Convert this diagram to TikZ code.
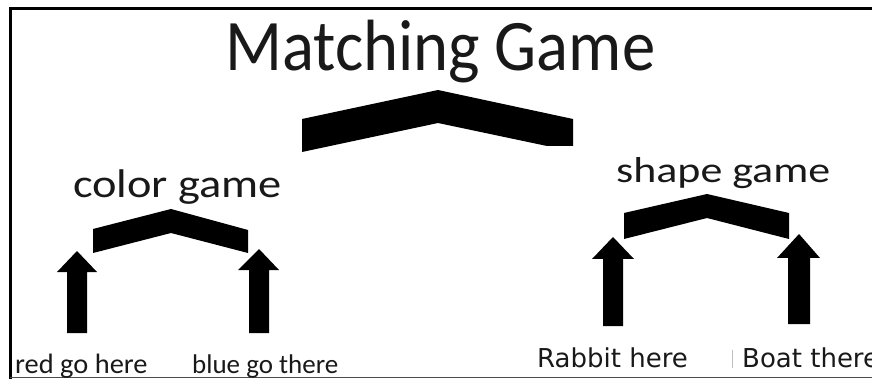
\documentclass[tikz,border=0pt]{standalone}
\usepackage{fontspec}
\setmainfont{Carlito}
\newfontfamily\dejavu{DejaVu Sans}
\tikzset{
  blockshape/.style={fill=black, draw=none},
  lbl/.style={anchor=base west, inner sep=0pt, text=black!90},
}
\begin{document}
\begin{tikzpicture}[x=1pt,y=-1pt]
\useasboundingbox (0,0) rectangle (872,379);
\clip (0,0) rectangle (872,379);
% frame
\draw[line width=3pt] (10,379) -- (10,9) -- (872,9);
\draw[line width=1.6pt, black!70] (10,377.5) -- (872,377.5);
% title
\node[lbl, font=\fontsize{66}{66}\selectfont] (title) at (225,71) {\scalebox{1.01}[1.1]{Matching Game}};
% big chevron
\fill[blockshape] (302,119) -- (438,90) -- (573,119) -- (573,146) -- (547,146) -- (438,123) -- (302,152) -- cycle;
% sub titles
\node[lbl, font=\fontsize{40}{40}\selectfont] (color) at (73,198) {\scalebox{1.16}[1]{color game}};
\node[lbl, font=\fontsize{36}{36}\selectfont] (shape) at (616,183) {\scalebox{1.22}[1]{shape game}};
% small chevrons
\fill[blockshape] (93,229) -- (171,209) -- (248,230) -- (248,253) -- (171,233) -- (93,253) -- cycle;
\fill[blockshape] (624,213) -- (707,194) -- (789,213) -- (789,239) -- (707,218) -- (624,239) -- cycle;
% arrows
\fill[blockshape] (67,333) -- (67,272) -- (57,272) -- (77,251) -- (97,272) -- (87,272) -- (87,333) -- cycle;
\fill[blockshape] (249,333) -- (249,270) -- (238,270) -- (259,249) -- (279,270) -- (269,270) -- (269,333) -- cycle;
\fill[blockshape] (603,326) -- (603,259) -- (592,259) -- (613,237) -- (634,259) -- (623,259) -- (623,326) -- cycle;
\fill[blockshape] (788,324) -- (788,258) -- (777,258) -- (799,234) -- (820,258) -- (810,258) -- (810,324) -- cycle;
% bottom labels
\node[lbl, font=\fontsize{28}{28}\selectfont] (red) at (15,373) {\scalebox{1.015}[1]{red go here}};
\node[lbl, font=\fontsize{27}{27}\selectfont] (blue) at (192,373) {blue go there};
\node[lbl, font=\dejavu\fontsize{26}{26}\selectfont] (rabbit) at (537,367) {Rabbit here};
\node[lbl, font=\dejavu\fontsize{26}{26}\selectfont] (boat) at (742,367) {Boat there};
\draw[black!25, line width=0.8pt] (732,350) -- (732,368);
\end{tikzpicture}
\end{document}
